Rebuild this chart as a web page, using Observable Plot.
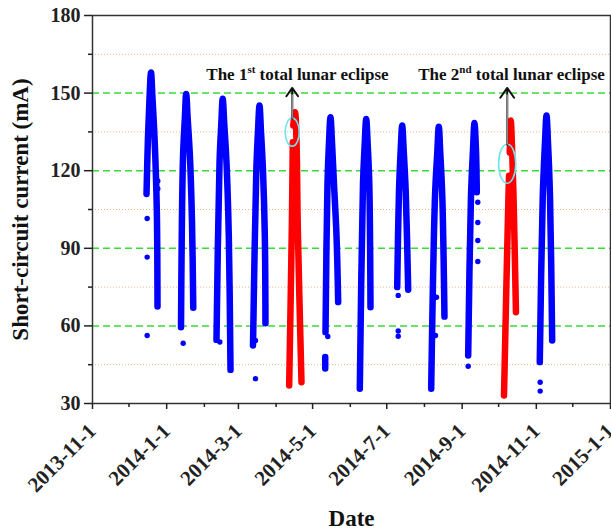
<!DOCTYPE html>
<html>
<head>
<meta charset="utf-8">
<script src="https://cdn.jsdelivr.net/npm/d3@7"></script>
<script src="https://cdn.jsdelivr.net/npm/@observablehq/plot@0.6"></script>
<style>
  html, body { margin: 0; padding: 0; background: #fff; }
</style>
</head>
<body>
<div id="chart"></div>
<script>
// ---- Data ----
// Each arch: dates (UTC, hour precision) and short-circuit current (mA); null = data gap
const archDates = [
  ["2013-12-15T10","2013-12-16T15","2013-12-17T21","2013-12-19T03","2013-12-20T08","2013-12-22T00","2013-12-23T21","2013-12-24T11"],
  ["2014-01-12T19","2014-01-14T10","2014-01-15T22","2014-01-17T01","2014-01-18T07","2014-01-20T04","2014-01-21T20","2014-01-22T21"],
  ["2014-02-10T23","2014-02-13T11","2014-02-14T22","2014-02-16T02","2014-02-17T09","2014-02-19T05","2014-02-21T02","2014-02-22T12"],
  ["2014-03-13T00","2014-03-15T17","2014-03-17T02","2014-03-18T08","2014-03-19T14","2014-03-21T05","2014-03-22T17","2014-03-23T06"],
  ["2014-04-11T18","2014-04-13T22","2014-04-14T17","2014-04-14T20","2014-04-15T03","2014-04-16T13","2014-04-17T18","2014-04-18T20","2014-04-21T21"],
  ["2014-05-11T15","2014-05-13T06","2014-05-14T12","2014-05-15T17","2014-05-16T23","2014-05-18T14","2014-05-20T16","2014-05-22T01"],
  ["2014-06-08T20","2014-06-11T11","2014-06-12T20","2014-06-14T02","2014-06-15T08","2014-06-16T15","2014-06-17T15"],
  ["2014-07-09T14","2014-07-11T01","2014-07-12T11","2014-07-13T17","2014-07-14T22","2014-07-16T14","2014-07-18T15"],
  ["2014-08-06T13","2014-08-09T16","2014-08-11T13","2014-08-12T19","2014-08-14T00","2014-08-15T16","2014-08-17T11"],
  ["2014-09-05T23","2014-09-08T06","2014-09-09T22","2014-09-11T03","2014-09-12T09","2014-09-13T01"],
  ["2014-10-05T10","2014-10-07T05","2014-10-09T03","2014-10-09T14","2014-10-09T20","2014-10-10T04","2014-10-11T00","2014-10-11T23","2014-10-13T05","2014-10-15T06"],
  ["2014-11-03T20","2014-11-06T07","2014-11-08T03","2014-11-09T09","2014-11-10T14","2014-11-12T06","2014-11-14T01"],
  ["2014-05-11T09","2014-05-11T09"]
];
const archCurrents = [
  [111, 133, 148, 158, 148, 133, 105, 67.5],
  [59.5, 125, 140, 149.7, 140, 125, 100, 67],
  [54.6, 123, 138, 147.8, 138, 123, 95, 43],
  [52.4, 120, 135, 145.2, 135, 120, 95, 61],
  [37, 98, 131, null, 137.5, 142.6, 132, 98, 38.2],
  [57.6, 115, 131, 140.7, 131, 115, 95, 69.2],
  [35.7, 115, 130, 140, 130, 115, 67.2],
  [75, 112, 128, 137.5, 128, 112, 74],
  [35.7, 110, 127, 137, 127, 110, 63.6],
  [48.6, 110, 128, 138.4, 128, 111.7],
  [33.1, 72, 111, 118, null, 127, 139.4, 130, 111, 65.3],
  [46, 110, 131, 141.3, 131, 110, 54.4],
  [48, 43.5]
];
const eclipseArches = [4, 10];

// isolated sample points
const dotDates = [
  "2013-12-15T23","2013-12-15T23","2013-12-15T23","2013-12-24T17","2013-12-24T17",
  "2014-01-14T14","2014-02-13T17","2014-03-15T01","2014-03-15T01","2014-05-13T12",
  "2014-07-10T10","2014-07-10T10","2014-07-10T10","2014-08-10T02","2014-08-10T22",
  "2014-09-05T23","2014-09-13T21","2014-09-13T21","2014-09-13T21","2014-09-13T21",
  "2014-11-04T04","2014-11-04T04"
];
const dotCurrents = [
  101.5, 86.6, 56.3, 116, 113,
  53.3, 53.8, 54.4, 39.6, 55.9,
  71.8, 58, 56, 56.3, 71.1,
  44.4, 107.8, 100, 93, 84.9,
  38.2, 34.8
];

// eclipse annotations
const eclipseLabels = ["The 1st total lunar eclipse", "The 2nd total lunar eclipse"];
const labelDates = ["2014-04-18T14", "2014-10-11T14"];
const labelCurrent = [154.9, 154.9];
const markerDates = ["2014-04-14T06", "2014-10-08T01"];
const ellipseCurrents = [134.9, 122.7];
const arrowFrom = [140.2, 130.1];
const arrowTo = [152, 152];

// axes
const xDomain = ["2013-11-01", "2015-01-01"];
const xTickDates = ["2013-11-01","2014-01-01","2014-03-01","2014-05-01","2014-07-01","2014-09-01","2014-11-01","2015-01-01"];
const xTickLabels = ["2013-11-1","2014-1-1","2014-3-1","2014-5-1","2014-7-1","2014-9-1","2014-11-1","2015-1-1"];
const xMinorTickDates = ["2013-12-01","2014-02-01","2014-04-01","2014-06-01","2014-08-01","2014-10-01","2014-12-01"];
const yTicks = [30, 60, 90, 120, 150, 180];
const yMinorTicks = [45, 75, 105, 135, 165];
const greenGrid = [60, 90, 120, 150];
const orangeGrid = [45, 75, 105, 135, 165];

// ---- Build ----
const T = s => new Date(s.length <= 10 ? s : s + ":00Z");
const archRows = archDates.flatMap((ds, a) => ds.map((d, i) => ({
  arch: a, date: T(d), current: archCurrents[a][i], eclipse: eclipseArches.includes(a)
})));
const dotRows = dotDates.map((d, i) => ({date: T(d), current: dotCurrents[i]}));
const labelMap = new Map(xTickDates.map((d, i) => [+T(d), xTickLabels[i]]));

function ellipseSymbol(aspect) {
  return {
    draw(ctx, size) {
      const ry = Math.sqrt(size / Math.PI), rx = ry * aspect, k = 0.5523;
      ctx.moveTo(rx, 0);
      ctx.bezierCurveTo(rx, k * ry, k * rx, ry, 0, ry);
      ctx.bezierCurveTo(-k * rx, ry, -rx, k * ry, -rx, 0);
      ctx.bezierCurveTo(-rx, -k * ry, -k * rx, -ry, 0, -ry);
      ctx.bezierCurveTo(k * rx, -ry, rx, -k * ry, rx, 0);
      ctx.closePath();
    }
  };
}

const BLUE = "#0000ff", RED = "#ff0000";
const SERIF = "'Liberation Serif', 'Times New Roman', serif";
const lineOpts = {x: "date", y: "current", z: "arch", strokeWidth: 6.5, curve: "catmull-rom",
  strokeLinecap: "round", strokeLinejoin: "round"};

const chart = Plot.plot({
  width: 611,
  height: 531,
  marginLeft: 92,
  marginRight: 1,
  marginTop: 15,
  marginBottom: 128,
  style: {fontFamily: SERIF, fontWeight: "bold", background: "#fff", color: "#222"},
  x: {type: "utc", domain: xDomain.map(T)},
  y: {domain: [30, 180]},
  marks: [
    Plot.ruleY(orangeGrid, {stroke: "#f2b27c", strokeWidth: 1, strokeDasharray: "1,2"}),
    Plot.ruleY(greenGrid, {stroke: "#3ada3a", strokeWidth: 1.5, strokeDasharray: "7,4"}),
    Plot.line(archRows.filter(d => !d.eclipse), {...lineOpts, stroke: BLUE}),
    Plot.line(archRows.filter(d => d.eclipse), {...lineOpts, stroke: RED}),
    Plot.dot(dotRows, {x: "date", y: "current", r: 2.7, fill: BLUE}),
    Plot.dot([0], {x: () => T(markerDates[0]), y: () => ellipseCurrents[0], r: 14, symbol: ellipseSymbol(0.5), stroke: "#6fe3ee", strokeWidth: 1.6, fill: "none"}),
    Plot.dot([1], {x: () => T(markerDates[1]), y: () => ellipseCurrents[1], r: 19.5, symbol: ellipseSymbol(0.44), stroke: "#6fe3ee", strokeWidth: 1.6, fill: "none"}),
    Plot.arrow([0, 1], {x1: i => T(markerDates[i]), x2: i => T(markerDates[i]), y1: i => arrowFrom[i], y2: i => arrowTo[i], stroke: "#111", strokeWidth: 2, headLength: 9, headAngle: 70}),
    Plot.link([0, 1], {x1: i => T(markerDates[i]), x2: i => T(markerDates[i]), y1: i => arrowFrom[i], y2: i => arrowTo[i] - 2.5, stroke: "#8a8a8a", strokeWidth: 1.8}),
    Plot.text([0, 1], {x: i => T(labelDates[i]), y: i => labelCurrent[i], text: i => eclipseLabels[i], fontSize: 17, fontFamily: SERIF, fontWeight: "bold", lineAnchor: "bottom", textAnchor: "middle", fill: "#111", className: "eclipse-label"}),
    Plot.frame({stroke: "#333", strokeWidth: 1.5}),
    Plot.axisY(yTicks, {tickSize: 8, tickPadding: 4, fontSize: 20, fontFamily: SERIF, fontWeight: "bold", label: null, strokeWidth: 1.5}),
    Plot.axisY(yMinorTicks, {tickSize: 4, text: null, label: null, strokeWidth: 1.5}),
    Plot.axisX(xTickDates.map(T), {tickSize: 6, tickPadding: 18, tickRotate: -45, fontSize: 21, fontFamily: SERIF, fontWeight: "bold", label: null, strokeWidth: 1.5, tickFormat: d => labelMap.get(+d)}),
    Plot.axisX(xMinorTickDates.map(T), {tickSize: 4, text: null, label: null, strokeWidth: 1.5}),
    Plot.text(["Short-circuit current (mA)"], {frameAnchor: "left", textAnchor: "middle", lineAnchor: "middle", dx: -72, rotate: -90, fontSize: 23, fontFamily: SERIF, fontWeight: "bold", fill: "#111"}),
    Plot.text(["Date"], {frameAnchor: "bottom", lineAnchor: "middle", dy: 115, fontSize: 23, fontFamily: SERIF, fontWeight: "bold", fill: "#111"})
  ]
});

// superscript ordinal suffixes in the annotations
chart.querySelectorAll(".eclipse-label text").forEach(t => {
  const m = t.textContent.match(/^(The \d)(st|nd|rd|th)( .*)$/);
  if (!m) return;
  const ns = "http://www.w3.org/2000/svg";
  t.textContent = "";
  t.appendChild(document.createTextNode(m[1]));
  const sup = document.createElementNS(ns, "tspan");
  sup.setAttribute("dy", "-7");
  sup.setAttribute("font-size", "11");
  sup.textContent = m[2];
  t.appendChild(sup);
  const rest = document.createElementNS(ns, "tspan");
  rest.setAttribute("dy", "7");
  rest.textContent = m[3];
  t.appendChild(rest);
});

document.getElementById("chart").appendChild(chart);
</script>
</body>
</html>
